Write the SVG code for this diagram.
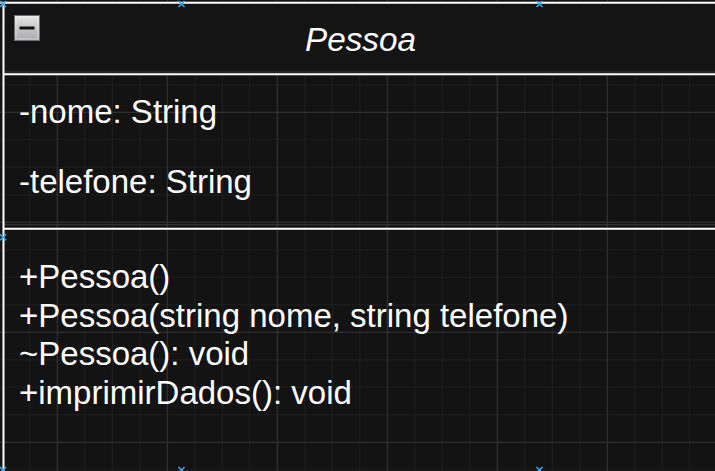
<svg xmlns="http://www.w3.org/2000/svg" width="715" height="471" viewBox="0 0 715 471">
  <style>
    .t { font-family: "Liberation Sans", Arial, sans-serif; font-size: 33px; fill: #ffffff; }
    .title { font-style: italic; font-size: 33.3px; }
    .border { stroke: #ffffff; stroke-width: 2; fill: none; }
    .shade { stroke: #3a3a3a; stroke-width: 1; fill: none; }
    .mk { stroke: #3fa7e8; stroke-width: 1.6; fill: none; }
  </style>
  <defs>
    <pattern id="minor" patternUnits="userSpaceOnUse" x="1.8" y="1.8" width="27.5" height="27.5">
      <path d="M0.5 0V27.5M0 0.5H27.5" stroke="#1f1f1f" stroke-width="1" fill="none"/>
    </pattern>
    <pattern id="major" patternUnits="userSpaceOnUse" x="56.8" y="1.8" width="110" height="110">
      <path d="M0.5 0V110M0 0.5H110" stroke="#333333" stroke-width="1" fill="none"/>
    </pattern>
    <linearGradient id="btn" x1="0" y1="0" x2="0" y2="1">
      <stop offset="0" stop-color="#e6e6e6"/>
      <stop offset="1" stop-color="#a9a9ad"/>
    </linearGradient>
    <g id="marker">
      <path d="M-3 -3L3 3M3 -3L-3 3"/>
    </g>
  </defs>
  <rect width="715" height="471" fill="#131313"/>
  <rect width="715" height="471" fill="url(#minor)"/>
  <rect width="715" height="471" fill="url(#major)"/>

  <g id="connectors"></g>

  <g id="pessoa">
    <rect x="3" y="3" width="715" height="70" fill="#141414"/>
    <line class="shade" x1="4" y1="72" x2="715" y2="72"/>
    <line class="border" x1="3" y1="74.3" x2="715" y2="74.3"/>
    <line class="shade" x1="4" y1="224.7" x2="715" y2="224.7"/>
    <line class="border" x1="3" y1="228.8" x2="715" y2="228.8"/>
    <line class="border" x1="0" y1="2.7" x2="715" y2="2.7"/>
    <line class="border" x1="3.5" y1="2" x2="3.5" y2="471"/>

    <g id="collapse">
      <rect x="14.5" y="15.5" width="25" height="25" fill="url(#btn)" stroke="#6e7077" stroke-width="1"/>
      <rect x="16" y="17" width="22" height="22" fill="none" stroke="#f2f2f2" stroke-width="1" opacity="0.6"/>
      <rect x="19.5" y="26.5" width="15" height="3" fill="#111111"/>
    </g>

    <text class="t title" x="360.5" y="51" text-anchor="middle">Pessoa</text>

    <text class="t" x="19" y="123.3">-nome: String</text>
    <text class="t" x="19" y="193.3">-telefone: String</text>

    <text class="t" x="19" y="288.3">+Pessoa()</text>
    <text class="t" x="19" y="326.7">+Pessoa(string nome, string telefone)</text>
    <text class="t" x="19" y="365.1">~Pessoa(): void</text>
    <text class="t" x="19" y="403.5">+imprimirDados(): void</text>

    <g class="mk">
      <use href="#marker" x="3" y="4"/>
      <use href="#marker" x="181.5" y="4"/>
      <use href="#marker" x="539.5" y="4"/>
      <use href="#marker" x="3" y="237.3"/>
      <use href="#marker" x="3" y="470"/>
      <use href="#marker" x="181.5" y="470"/>
      <use href="#marker" x="539.5" y="470"/>
    </g>
  </g>
</svg>
